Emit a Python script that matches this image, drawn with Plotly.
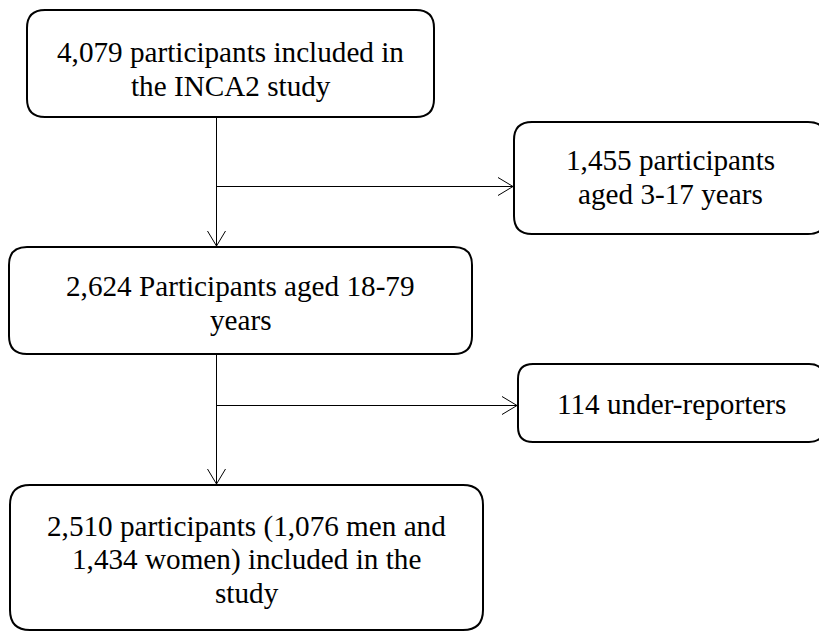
import plotly.graph_objects as go

# ---- content (text of each box, line by line) ----
box_included = ["4,079 participants included in", "the INCA2 study"]
box_children = ["1,455 participants", "aged 3-17 years"]
box_adults = ["2,624 Participants aged 18-79", "years"]
box_under = ["114 under-reporters"]
box_final = ["2,510 participants (1,076 men and", "1,434 women) included in the", "study"]

# ---- layout geometry (pixels, y downward, in page coordinates) ----
W, H = 827, 632
OFF = 8  # page body margin
FONT = "Liberation Serif"
FSIZE = 29.2
LINE_GAP = 33.5

boxes = [
    # (x0, y0, x1, y1, radius, first-line center y, lines)
    (27, 10, 434, 117, 18, 52, box_included),
    (514, 122, 826, 234, 18, 160, box_children),
    (9, 247, 472, 354, 18, 286, box_adults),
    (518, 364, 824, 442, 15, 404, box_under),
    (10, 485, 483, 630, 20, 526, box_final),
]

arrows = [
    # (x0, y0, x1, y1)
    (216.5, 117, 216.5, 246),
    (216.5, 186.5, 513, 186.5),
    (216.5, 354, 216.5, 484),
    (216.5, 405.5, 517, 405.5),
]


def rounded_rect(x0, y0, x1, y1, r):
    return (f"M {x0+r},{y0} L {x1-r},{y0} Q {x1},{y0} {x1},{y0+r} "
            f"L {x1},{y1-r} Q {x1},{y1} {x1-r},{y1} L {x0+r},{y1} "
            f"Q {x0},{y1} {x0},{y1-r} L {x0},{y0+r} Q {x0},{y0} {x0+r},{y0} Z")


shapes = []
annotations = []
for x0, y0, x1, y1, r, ty, lines in boxes:
    shapes.append(dict(type="path", path=rounded_rect(x0, y0, x1, y1, r),
                       xref="x", yref="y", line=dict(color="black", width=2),
                       fillcolor="white", layer="below"))
    cx = (x0 + x1) / 2
    for i, t in enumerate(lines):
        annotations.append(dict(x=cx, y=ty + i * LINE_GAP, xref="x", yref="y",
                                text=t, showarrow=False, xanchor="center",
                                yanchor="middle",
                                font=dict(family=FONT, size=FSIZE, color="black")))

HL, HW = 15, 9
for x0, y0, x1, y1 in arrows:
    shapes.append(dict(type="line", x0=x0, y0=y0, x1=x1, y1=y1, xref="x", yref="y",
                       line=dict(color="black", width=1)))
    if x0 == x1:  # vertical, pointing down
        p = f"M {x1-HW},{y1-HL} L {x1},{y1} L {x1+HW},{y1-HL}"
    else:  # horizontal, pointing right
        p = f"M {x1-HL},{y1-HW} L {x1},{y1} L {x1-HL},{y1+HW}"
    shapes.append(dict(type="path", path=p, xref="x", yref="y",
                       line=dict(color="black", width=1)))

fig = go.Figure()
fig.update_layout(
    width=W - OFF, height=H - OFF,
    margin=dict(l=0, r=0, t=0, b=0),
    paper_bgcolor="white", plot_bgcolor="white",
    font=dict(family=FONT),
    xaxis=dict(range=[OFF, W], visible=False, fixedrange=True),
    yaxis=dict(range=[H, OFF], visible=False, fixedrange=True),
    shapes=shapes, annotations=annotations, showlegend=False,
)
fig.write_html("out.html")
